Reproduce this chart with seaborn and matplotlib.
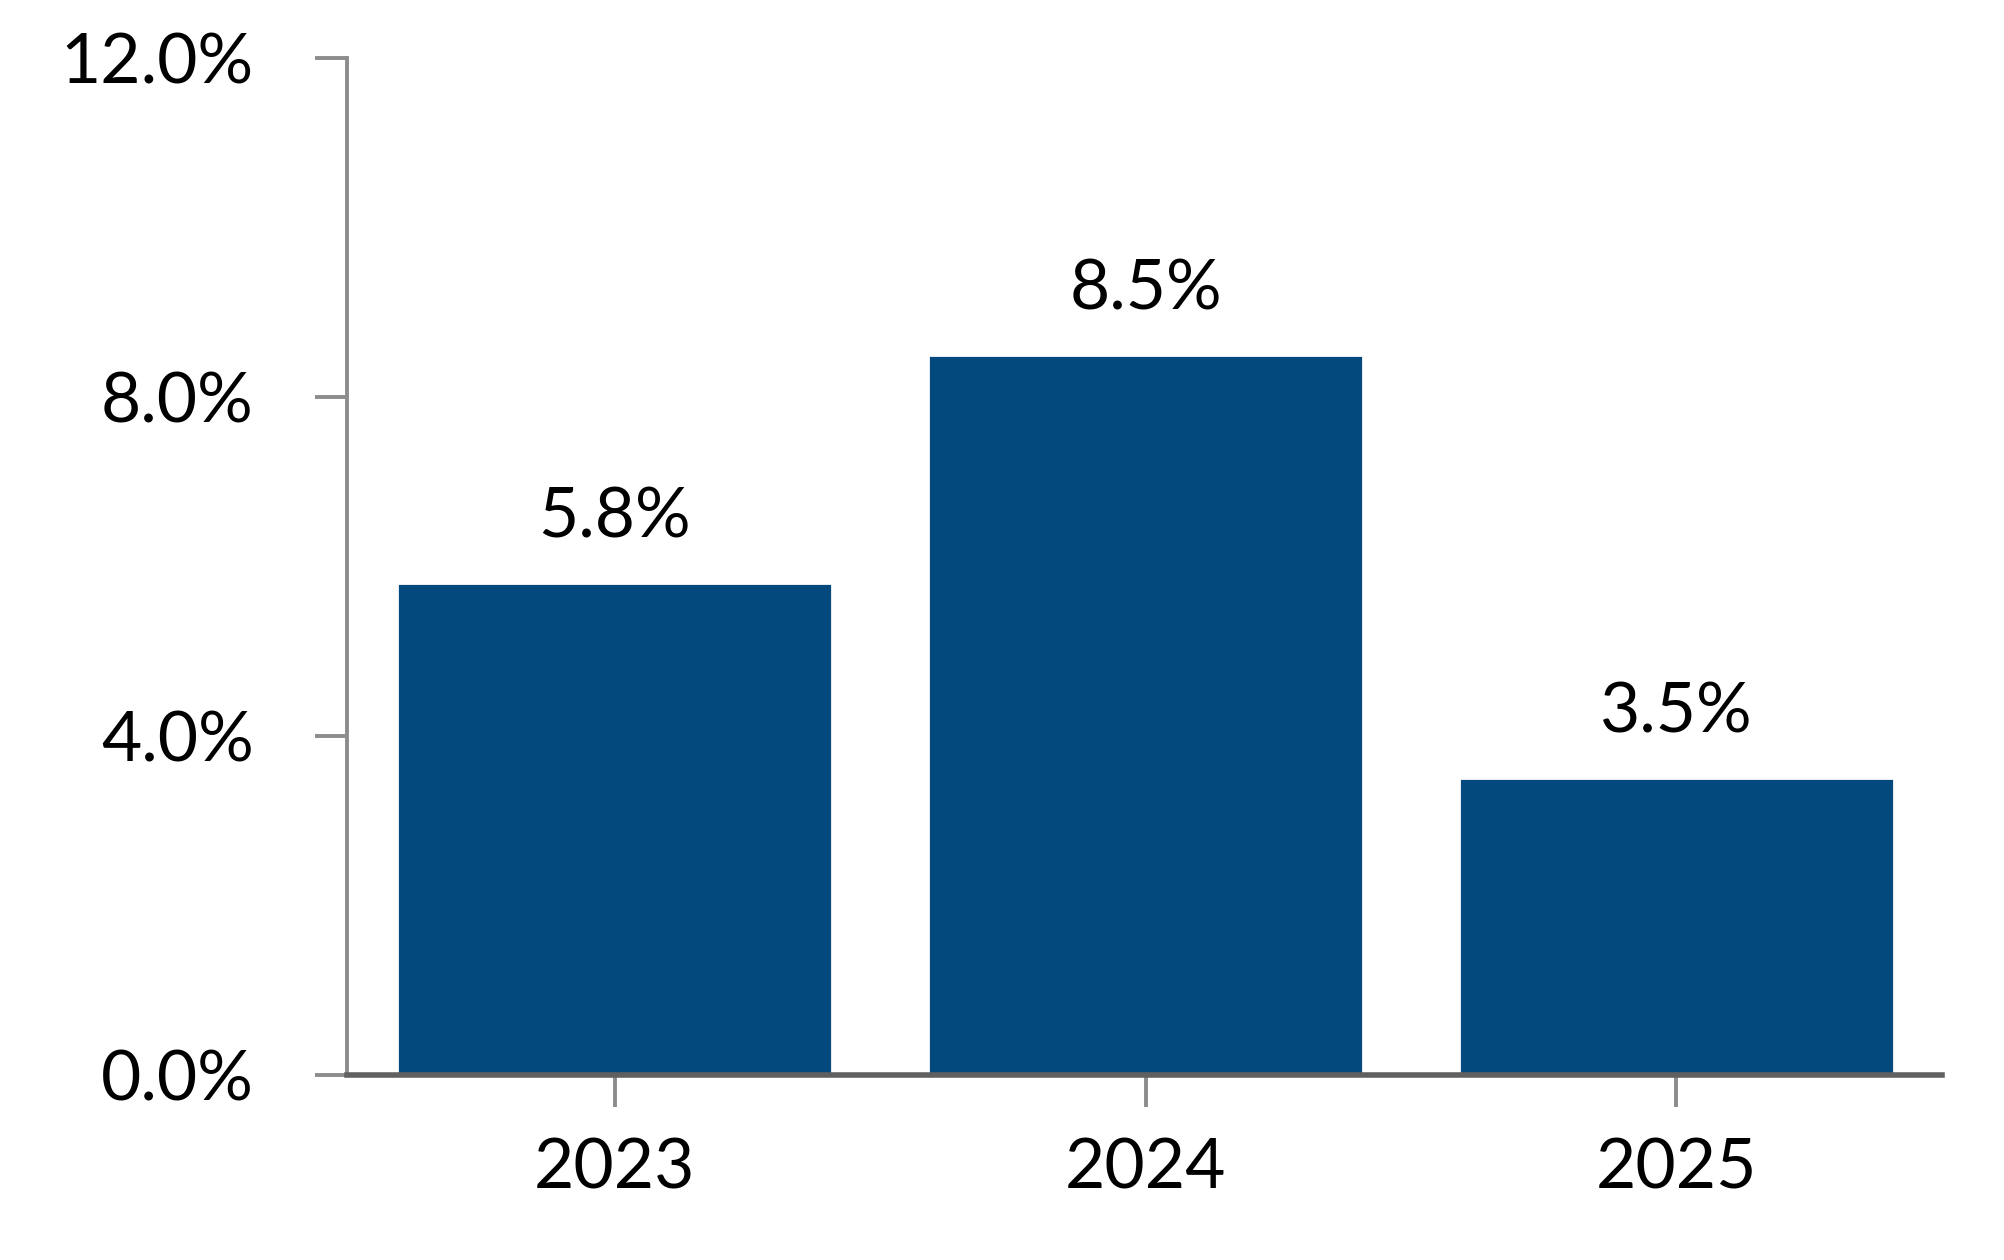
import matplotlib
matplotlib.use("Agg")
import matplotlib.pyplot as plt
import seaborn as sns
import pandas as pd

# =========================
# DATA
# =========================

years = ["2023", "2024", "2025"]
values = [5.8, 8.5, 3.5]
y_ticks = [0.0, 4.0, 8.0, 12.0]

bar_color = "#03497e"

df = pd.DataFrame({"Year": years, "Value": values})

# =========================
# PLOT
# =========================

sns.set_style("white")
plt.rcParams["font.family"] = ["Lato", "DejaVu Sans"]

fig = plt.figure(figsize=(10.02, 6.3), dpi=200)
ax = fig.add_axes([0.173, 0.147, 0.796, 0.807])

sns.barplot(
    data=df,
    x="Year",
    y="Value",
    color=bar_color,
    saturation=1,
    width=0.82,
    ax=ax
)

for i, v in enumerate(values):
    ax.annotate(
        f"{v:.1f}%",
        xy=(i, v),
        xytext=(0, 12),
        textcoords="offset points",
        ha="center",
        va="bottom",
        fontsize=25,
        color="black"
    )

ax.set_ylim(0, 12)
ax.set_xlim(-0.505, 2.5)
ax.set_yticks(y_ticks)
ax.set_yticklabels([f"{t:.1f}%" for t in y_ticks])
ax.set_xlabel("")
ax.set_ylabel("")

for s in ["top", "right"]:
    ax.spines[s].set_visible(False)
ax.spines["left"].set_color("#8c8c8c")
ax.spines["left"].set_linewidth(1.4)
ax.spines["bottom"].set_color("#606060")
ax.spines["bottom"].set_linewidth(2.0)

ax.tick_params(
    axis="both",
    direction="out",
    length=11.5,
    width=1.4,
    color="#8c8c8c",
    labelsize=25,
    labelcolor="black",
    bottom=True,
    left=True
)
ax.tick_params(axis="x", pad=11)
ax.tick_params(axis="y", pad=22)

fig.savefig("out.png", dpi=200)
